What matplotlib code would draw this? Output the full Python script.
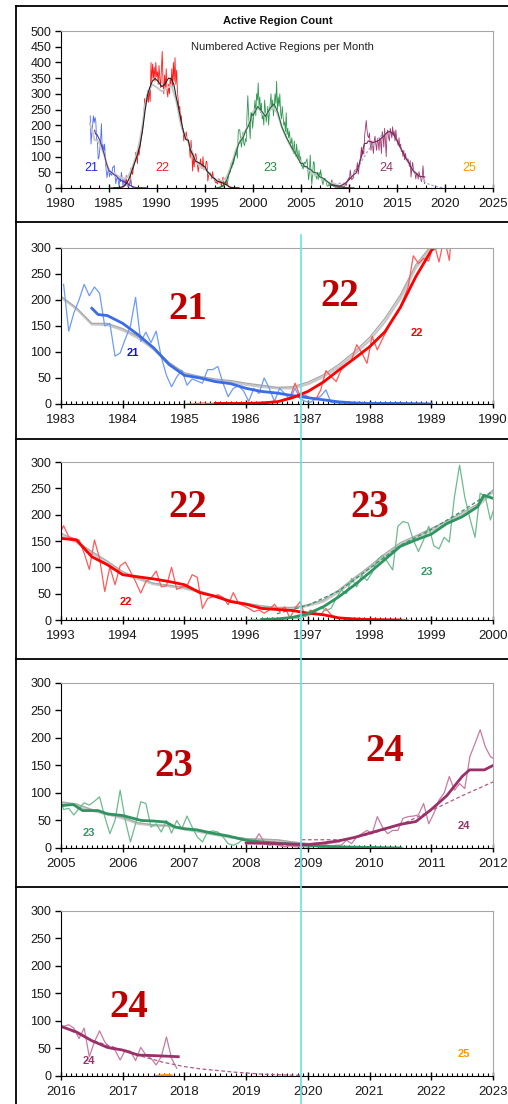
import matplotlib.pyplot as plt
import numpy as np
from matplotlib import ticker
from matplotlib.lines import Line2D

plt.rcParams['font.family'] = ['Liberation Sans', 'DejaVu Sans']

# monthly numbered active regions, one row per year
c21_start = 1983
c21_raw = [
    [230, 140, 175, 200, 230, 208, 225, 213, 150, 155, 92, 98],
    [125, 150, 205, 120, 138, 118, 140, 90, 55, 33, 52, 65],
    [36, 48, 44, 40, 66, 66, 72, 40, 14, 30, 35, 25],
    [5, 30, 20, 50, 30, 5, 30, 20, 8, 30, 10, 5],
    [3, 10, 15, 27, 3, 2, 2, 2, 1, 1, 1, 1],
    [1, 1, 1, 0, 1, 0, 1, 0, 0, 1, 0, 0],
]
c22_start = 1985
c22_raw = [
    [0, 0, 1, 2, 1, 1, 2, 1, 0, 1, 2, 1],
    [1, 2, 2, 3, 4, 6, 5, 10, 12, 40, 15, 17],
    [11, 8, 27, 64, 53, 43, 66, 75, 85, 114, 98, 78],
    [130, 104, 125, 145, 165, 175, 200, 225, 285, 270, 280, 275],
    [310, 273, 320, 276, 400, 340, 395, 350, 385, 340, 400, 355],
    [370, 330, 390, 350, 320, 380, 435, 340, 300, 360, 320, 380],
    [310, 290, 330, 300, 350, 330, 380, 320, 400, 340, 415, 330],
    [375, 310, 280, 250, 260, 200, 230, 185, 190, 150, 175, 160],
    [179, 158, 155, 152, 127, 96, 152, 117, 54, 101, 67, 103],
    [110, 92, 73, 51, 73, 79, 93, 63, 65, 100, 58, 63],
    [65, 86, 81, 22, 41, 44, 48, 43, 29, 52, 32, 27],
    [22, 16, 19, 13, 19, 30, 16, 25, 4, 22, 35, 6],
    [19, 13, 10, 22, 10, 5, 3, 2, 2, 1, 1, 1],
    [1, 1, 0, 1, 0, 0, 1, 0],
]
c23_start = 1996
c23_raw = [
    [0, 1, 0, 1, 2, 1, 3, 2, 5, 4, 3, 8],
    [10, 16, 25, 18, 22, 41, 57, 50, 79, 63, 85, 75],
    [90, 114, 123, 110, 95, 178, 187, 184, 152, 130, 152, 178],
    [141, 135, 157, 148, 234, 294, 234, 193, 157, 241, 234, 190],
    [222, 250, 280, 230, 300, 280, 335, 260, 290, 240, 270, 220],
    [230, 200, 280, 250, 210, 230, 260, 200, 240, 270, 300, 250],
    [280, 230, 260, 300, 270, 340, 250, 290, 260, 300, 240, 220],
    [260, 230, 200, 210, 180, 240, 170, 190, 160, 180, 150, 140],
    [160, 130, 110, 150, 120, 100, 140, 110, 90, 120, 80, 100],
    [70, 72, 60, 72, 82, 78, 85, 93, 57, 26, 50, 105],
    [50, 11, 44, 84, 81, 38, 44, 29, 50, 27, 50, 35],
    [58, 38, 20, 11, 29, 31, 29, 20, 8, 5, 9, 17],
    [11, 14, 9, 8, 5, 6, 4, 3, 5, 2, 3, 2],
    [2, 3, 1, 2, 1, 2, 1, 1, 0, 1, 1, 0],
    [1, 0, 1, 0, 0, 1, 0],
]
c24_start = 2008
c24_raw = [
    [9, 11, 26, 11, 8, 11, 5, 2, 4, 3, 2, 5],
    [3, 5, 4, 6, 3, 5, 5, 14, 8, 20, 26, 32],
    [26, 57, 38, 26, 32, 32, 54, 57, 58, 60, 81, 44],
    [63, 87, 100, 130, 105, 117, 108, 166, 190, 215, 184, 166],
    [160, 175, 140, 120, 150, 135, 110, 150, 165, 140, 120, 155],
    [145, 120, 160, 150, 110, 180, 165, 130, 190, 150, 100, 175],
    [185, 160, 150, 190, 175, 160, 195, 170, 180, 150, 185, 160],
    [150, 135, 160, 130, 140, 115, 120, 100, 120, 90, 110, 95],
    [90, 93, 87, 68, 87, 35, 62, 82, 62, 50, 47, 29],
    [47, 45, 28, 52, 38, 32, 20, 35, 71, 32, 14],
]
c25_start = 2017.5
c25_raw = [[0, 1, 2, 1]]

# smoothed counts per cycle
c21_sm_yr = [1983.5, 1983.6, 1983.75, 1984.0, 1984.25, 1984.5, 1984.75, 1985.0, 1985.25, 1985.5, 1985.75,
             1986.0, 1986.25, 1986.5, 1986.75, 1987.0, 1987.25, 1987.5, 1987.75, 1988.0, 1988.5, 1989.0]
c21_sm = [184, 172, 170, 155, 133, 108, 76, 55, 50, 43, 39, 30, 24, 21, 16, 12, 8, 4, 2, 1, 1, 0]

c22_sm_yr = [1985.5, 1986.0, 1986.25, 1986.5, 1986.75, 1987.0, 1987.25, 1987.5, 1987.75, 1988.0, 1988.25,
             1988.5, 1988.75, 1989.0, 1989.25, 1989.5, 1989.8, 1990.1, 1990.5, 1990.8, 1991.2, 1991.5,
             1991.75, 1992.0, 1992.25, 1992.5, 1992.75, 1993.0, 1993.25, 1993.5, 1993.75, 1994.0, 1994.25,
             1994.5, 1994.75, 1995.0, 1995.25, 1995.5, 1995.75, 1996.0, 1996.25, 1996.5, 1996.75, 1997.0,
             1997.25, 1997.5, 1997.75, 1998.0, 1998.5]
c22_sm = [1, 1, 2, 4, 12, 24, 42, 65, 87, 110, 139, 186, 245, 295, 320, 340, 349, 340, 323, 330, 350, 348,
          330, 290, 255, 215, 180, 155, 152, 120, 105, 86, 82, 78, 73, 67, 52, 45, 35, 30, 22, 20, 18, 13,
          10, 4, 2, 1, 0]

c23_sm_yr = [1996.25, 1996.5, 1996.75, 1997.0, 1997.25, 1997.5, 1997.75, 1998.0, 1998.25, 1998.5, 1998.75,
             1999.0, 1999.25, 1999.5, 1999.75, 1999.85, 2000.0, 2000.5, 2000.9, 2001.3, 2001.8, 2002.2,
             2002.6, 2003.0, 2003.5, 2004.0, 2004.5, 2005.0, 2005.2, 2005.35, 2005.6, 2005.75, 2006.0,
             2006.3, 2006.5, 2006.7, 2006.85, 2007.0, 2007.2, 2007.45, 2007.7, 2008.0, 2008.25, 2008.5,
             2008.75, 2009.0, 2009.25, 2009.5, 2010.0, 2010.5]
c23_sm = [1, 2, 5, 12, 25, 44, 66, 90, 115, 140, 152, 163, 183, 196, 215, 237, 231, 260, 245, 228, 255,
          268, 240, 195, 160, 131, 105, 77, 79, 68, 68, 62, 59, 50, 49, 47, 38, 35, 33, 27, 22, 14, 11, 9,
          7, 5, 3, 2, 1, 0]

c24_sm_yr = [2008.0, 2008.5, 2009.0, 2009.25, 2009.5, 2009.75, 2010.0, 2010.25, 2010.5, 2010.75, 2011.0,
             2011.25, 2011.5, 2011.62, 2011.86, 2012.0, 2012.5, 2013.0, 2013.5, 2014.0, 2014.3, 2014.7,
             2015.0, 2015.5, 2016.0, 2016.25, 2016.5, 2016.75, 2017.0, 2017.25, 2017.5, 2017.9]
c24_sm = [9, 8, 6, 9, 13, 19, 27, 35, 43, 48, 70, 95, 130, 142, 142, 150, 145, 150, 162, 178, 180, 168,
          150, 120, 90, 80, 64, 52, 47, 38, 37, 35]

# predicted curves (dashed)
c23_pred_yr = [1996.5, 1997.0, 1997.5, 1998.0, 1998.5, 1999.0, 1999.5, 2000.0]
c23_pred = [12, 28, 55, 98, 142, 172, 207, 245]
c24_pred_yr = [2008.9, 2009.6, 2010.0, 2010.5, 2011.0, 2011.5, 2012.0, 2012.5, 2013.0, 2013.5, 2014.0,
               2014.5, 2015.0, 2015.5, 2016.0, 2016.5, 2017.0, 2017.33, 2017.65, 2018.0, 2018.25, 2018.8,
               2019.3, 2019.9]
c24_pred = [15, 15, 25, 42, 68, 95, 120, 140, 158, 170, 175, 172, 150, 120, 90, 65, 47, 35, 25, 17, 13, 7,
            3, 1]

# smoothed total of all regions (two versions, grey)
gray_yr = [1983.0, 1983.25, 1983.5, 1983.75, 1984.0, 1984.25, 1984.5, 1984.75,
           1985.0, 1985.25, 1985.5, 1985.75, 1986.0, 1986.25, 1986.5, 1986.75,
           1987.0, 1987.25, 1987.5, 1987.75, 1988.0, 1988.25, 1988.5, 1988.75,
           1989.0, 1989.5, 1990.0, 1990.5, 1991.0, 1991.5, 1992.0, 1992.5,
           1993.0, 1993.25, 1993.5, 1993.75, 1994.0, 1994.25, 1994.5, 1994.75,
           1995.0, 1995.25, 1995.5, 1995.75, 1996.0, 1996.25, 1996.5, 1996.75,
           1997.0, 1997.25, 1997.5, 1997.75, 1998.0, 1998.25, 1998.5, 1998.75,
           1999.0, 1999.25, 1999.5, 1999.75, 2000.0, 2000.5, 2001.0, 2001.5,
           2002.0, 2002.5, 2003.0, 2003.5, 2004.0, 2004.5,
           2005.0, 2005.25, 2005.5, 2005.75, 2006.0, 2006.25, 2006.5, 2006.75,
           2007.0, 2007.25, 2007.5, 2007.75, 2008.0, 2008.25, 2008.5, 2008.75,
           2009.0, 2009.25, 2009.5]
gray_a = [207, 185, 155, 155, 145, 130, 108, 80,
          60, 53, 48, 45, 40, 36, 32, 33,
          42, 56, 76, 100, 128, 165, 210, 268,
          305, 335, 325, 312, 322, 330, 282, 205,
          165, 150, 130, 112, 92, 80, 70, 66,
          62, 55, 46, 37, 32, 27, 24, 24,
          29, 38, 57, 80, 102, 126, 147, 160,
          174, 188, 204, 220, 247, 258, 242, 240,
          262, 245, 198, 162, 132, 106,
          84, 80, 70, 63, 56, 46, 42, 41,
          36, 31, 26, 21, 17, 16, 15, 11,
          8, 9, 12]
gray_b = [205, 183, 153, 152, 142, 127, 105, 78,
          57, 50, 45, 42, 37, 33, 30, 30,
          38, 52, 71, 95, 122, 158, 203, 262,
          300, 330, 320, 308, 318, 326, 278, 200,
          160, 148, 127, 108, 88, 78, 68, 64,
          60, 53, 44, 35, 30, 25, 22, 22,
          27, 35, 53, 76, 98, 122, 143, 156,
          170, 184, 200, 216, 243, 255, 238, 236,
          258, 241, 194, 158, 128, 103,
          82, 77, 68, 61, 54, 44, 41, 40,
          34, 29, 24, 19, 16, 15, 14, 10,
          7, 8, 11]


def monthly(start, rows):
    vals = np.concatenate([np.array(r, dtype=float) for r in rows])
    x = start + (np.arange(len(vals)) + 0.5) / 12.0
    return x, vals


x21, y21 = monthly(c21_start, c21_raw)
x22, y22 = monthly(c22_start, c22_raw)
x23, y23 = monthly(c23_start, c23_raw)
x24, y24 = monthly(c24_start, c24_raw)
x25, y25 = monthly(c25_start, c25_raw)

tick_col = '#1a1a1a'
big_red = '#BF0000'


def style(ax, x0, x1, ymax, xmajor, xminor):
    ax.set_xlim(x0, x1)
    ax.set_ylim(0, ymax)
    ax.xaxis.set_major_locator(ticker.MultipleLocator(xmajor))
    ax.xaxis.set_minor_locator(ticker.MultipleLocator(xminor))
    ax.yaxis.set_major_locator(ticker.MultipleLocator(50))
    ax.xaxis.set_major_formatter(ticker.FormatStrFormatter('%d'))
    ax.tick_params(axis='x', which='major', direction='inout', length=6, width=1,
                   labelsize=9.5, pad=4, labelcolor=tick_col)
    ax.tick_params(axis='x', which='minor', direction='in', length=2.5, width=0.8)
    ax.tick_params(axis='y', which='major', direction='out', length=4, width=1,
                   labelsize=9, pad=3, labelcolor=tick_col)
    for s in ['top', 'right']:
        ax.spines[s].set_color('#A6A6A6')
    for s in ['left', 'bottom']:
        ax.spines[s].set_color('black')


fig = plt.figure(figsize=(5.08, 11.04), dpi=100)

# ---------------- overview panel ----------------
ax0 = fig.add_axes([0.1201, 0.8297, 0.8504, 0.1422])
style(ax0, 1980, 2025, 500, 5, 1)
ax0.plot(x21, y21, color='#4D6BFF', lw=0.6)
ax0.plot(x22, y22, color='#FF1A1A', lw=0.6)
ax0.plot(x23, y23, color='#2E9950', lw=0.6)
ax0.plot(x24, y24, color='#A0396E', lw=0.6)
ax0.plot(gray_yr, gray_b, color='#C8C8C8', lw=1.4)
ax0.plot(c24_pred_yr, c24_pred, color='#A9A2DE', lw=0.9, ls=(0, (2, 1.5)))
ax0.plot(c21_sm_yr, c21_sm, color='#5A3A8C', lw=0.8)
ax0.plot(c22_sm_yr, c22_sm, color='#222222', lw=0.8)
ax0.plot(c23_sm_yr, c23_sm, color='#1F6B3A', lw=0.8)
ax0.plot(c24_sm_yr, c24_sm, color='#7A2452', lw=0.8)
for lab, xx, col in [('21', 1983.2, '#2222EE'), ('22', 1990.6, '#FF1A1A'), ('23', 2001.8, '#1E9040'),
                     ('24', 2013.9, '#993366'), ('25', 2022.5, '#FF9900')]:
    ax0.text(xx, 64, lab, color=col, fontsize=9, ha='center', va='center')
fig.text(278 / 508, 1 - 21 / 1104, 'Active Region Count', ha='center', va='center',
         fontsize=8, fontweight='bold', color='#111111')
fig.text(282 / 508, 1 - 47 / 1104, 'Numbered Active Regions per Month', ha='center', va='center',
         fontsize=8, color='#222222')

# ---------------- zoomed panels ----------------
panel_boxes = [[0.1201, 0.6341, 0.8504, 0.1413], [0.1201, 0.4384, 0.8504, 0.1431],
               [0.1201, 0.2319, 0.8504, 0.1495], [0.1201, 0.0254, 0.8504, 0.1495]]
panel_start = [1983, 1993, 2005, 2016]

cyc = {
    21: dict(x=x21, y=y21, sx=c21_sm_yr, sy=c21_sm, raw='#6E9BF7', sm='#3A6CE8', lab='#1010E0'),
    22: dict(x=x22, y=y22, sx=c22_sm_yr, sy=c22_sm, raw='#FF5A5A', sm='#FF0000', lab='#FF0000'),
    23: dict(x=x23, y=y23, sx=c23_sm_yr, sy=c23_sm, raw='#6DBB8E', sm='#2E9560', lab='#339966'),
    24: dict(x=x24, y=y24, sx=c24_sm_yr, sy=c24_sm, raw='#C77BA2', sm='#9B2F68', lab='#993366'),
}

# (cycles drawn, big labels, small labels) for each panel
panel_cycles = [[21, 22], [22, 23], [23, 24], [24]]
big_labels = [[('21', 1985.06, 181), ('22', 1987.52, 206)],
              [('22', 1995.06, 213), ('23', 1998.01, 213)],
              [('23', 2006.82, 149), ('24', 2010.25, 176)],
              [('24', 2017.09, 124)]]
small_labels = [[('21', 1984.17, 98, 21), ('22', 1988.77, 137, 22)],
                [('22', 1994.05, 34, 22), ('23', 1998.93, 91, 23)],
                [('23', 2005.45, 27, 23), ('24', 2011.52, 40, 24)],
                [('24', 2016.45, 27, 24), ('25', 2022.52, 40, 25)]]

for box, x0, cyl, bigs, smalls in zip(panel_boxes, panel_start, panel_cycles, big_labels, small_labels):
    ax = fig.add_axes(box)
    style(ax, x0, x0 + 7, 300, 1, 1 / 12)
    ax.plot(gray_yr, gray_b, color='#C8C8C8', lw=1.7)
    ax.plot(gray_yr, gray_a, color='#A8A8A8', lw=0.9)
    for c in cyl:
        d = cyc[c]
        ax.plot(d['x'], d['y'], color=d['raw'], lw=0.9)
    if 23 in cyl and x0 < 2000:
        ax.plot(c23_pred_yr, c23_pred, color='#2E9560', lw=0.9, ls=(0, (3, 2)))
    if 24 in cyl:
        ax.plot(c24_pred_yr, c24_pred, color='#B05A88', lw=0.9, ls=(0, (3, 2)))
    for c in cyl:
        d = cyc[c]
        ax.plot(d['sx'], d['sy'], color=d['sm'], lw=2.0)
    if x0 == 2016:
        ax.plot(x25, y25, color='#FF9900', lw=1.5)
    for lab, xx, yy in bigs:
        ax.text(xx, yy, lab, color=big_red, fontsize=28, fontweight='bold',
                family=['Liberation Serif', 'DejaVu Serif'], ha='center', va='center')
    for lab, xx, yy, c in smalls:
        col = cyc[c]['lab'] if c in cyc else '#FF9900'
        ax.text(xx, yy, lab, color=col, fontsize=8, fontweight='bold', ha='center', va='center')

# frame lines and the cyan marker line
for yy in [1 - 6 / 1104, 1 - 222 / 1104, 1 - 438.5 / 1104, 1 - 659 / 1104, 1 - 887 / 1104]:
    fig.add_artist(Line2D([16 / 508, 1.0], [yy, yy], transform=fig.transFigure, color='black', lw=1.3))
fig.add_artist(Line2D([16 / 508, 16 / 508], [0, 1 - 6 / 1104], transform=fig.transFigure,
                      color='black', lw=1.3))
fig.add_artist(Line2D([301 / 508, 301 / 508], [0, 1 - 235 / 1104], transform=fig.transFigure,
                      color='#66E3EE', lw=1.2, zorder=10))

fig.savefig('out.png', dpi=100)
